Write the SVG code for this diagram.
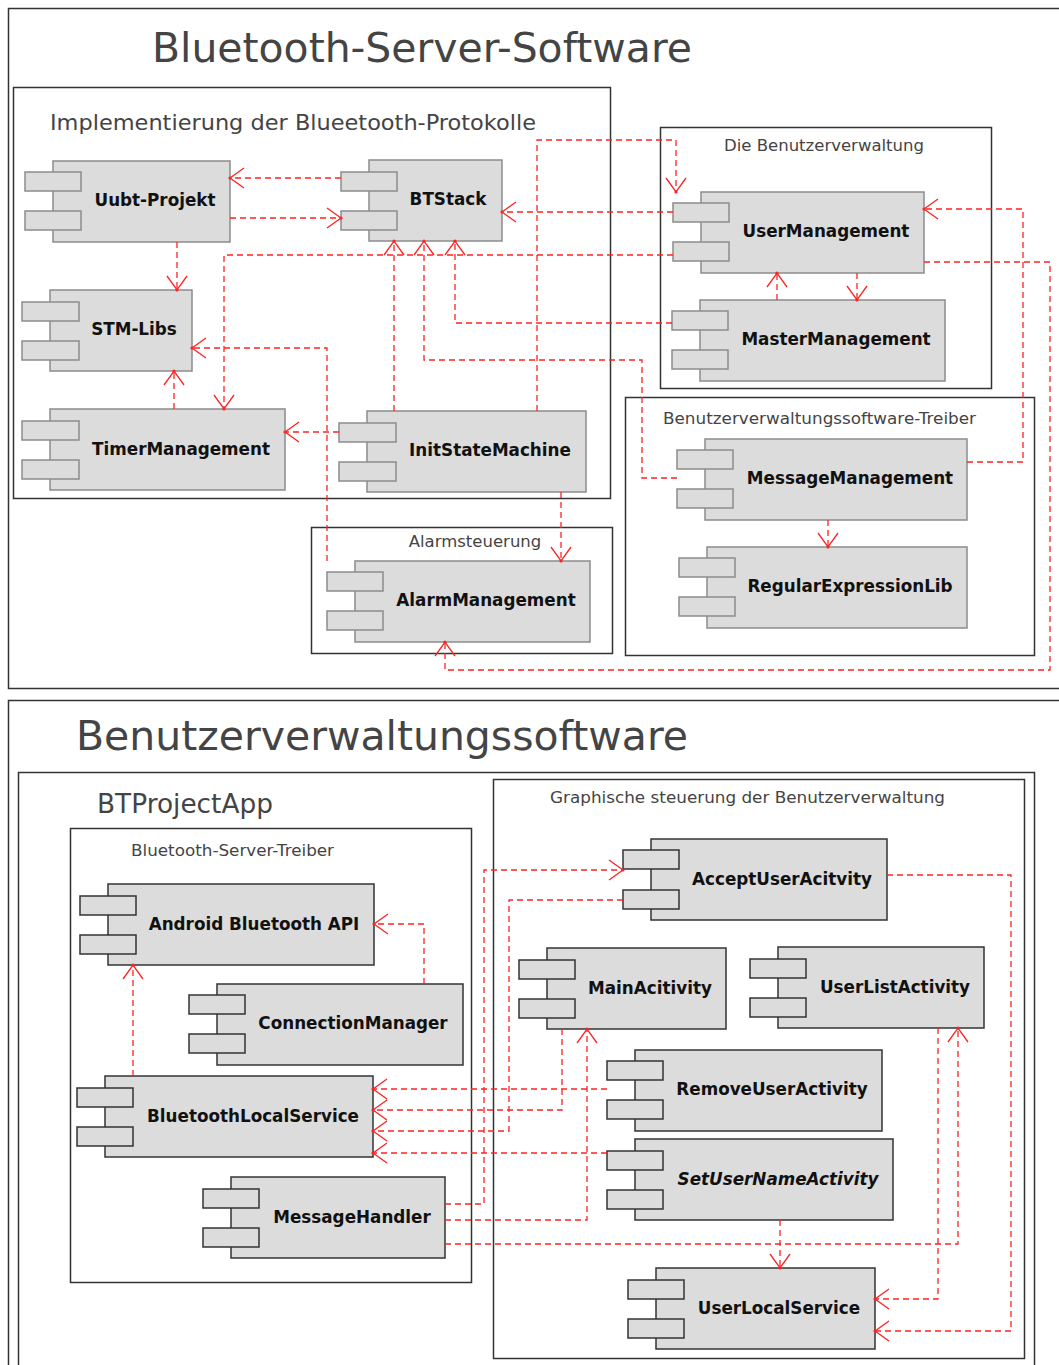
<svg xmlns="http://www.w3.org/2000/svg" width="1059" height="1365" viewBox="0 0 1059 1365">
<style>
.frame{fill:none;stroke:#333;stroke-width:1.5}
.t rect{fill:#dcdcdc;stroke:#8c8c8c;stroke-width:1.5}
.b rect{fill:#dcdcdc;stroke:#333;stroke-width:1.5}
.lbl{font-family:"DejaVu Sans",sans-serif;font-weight:bold;font-size:16.8px;fill:#111;text-anchor:middle}
.ft{font-family:"DejaVu Sans",sans-serif;fill:#444}
.conn path{fill:none;stroke:#f22;stroke-width:1.3;stroke-dasharray:6 4;marker-end:url(#arr)}
</style>
<defs>
<marker id="arr" markerUnits="userSpaceOnUse" viewBox="-16 -12 18 24" markerWidth="18" markerHeight="24" refX="0" refY="0" orient="auto">
<path d="M-14,-10 L0,0 L-14,10" fill="none" stroke="#f22" stroke-width="1.3"/>
<circle cx="0" cy="0" r="1.6" fill="#f22"/>
</marker>
</defs>
<rect width="1059" height="1365" fill="#fff"/>

<!-- top frames -->
<g id="frame-bss">
<rect class="frame" x="8.5" y="8.5" width="1060" height="680"/>
<text class="ft" x="152" y="62" font-size="40" textLength="540" lengthAdjust="spacingAndGlyphs" fill="#333">Bluetooth-Server-Software</text>
</g>
<g id="frame-impl">
<rect class="frame" x="13.5" y="87.5" width="597" height="411"/>
<text class="ft" x="50" y="130" font-size="22" textLength="486" lengthAdjust="spacingAndGlyphs">Implementierung der Blueetooth-Protokolle</text>
</g>
<g id="frame-bv">
<rect class="frame" x="660.5" y="127.5" width="331" height="261"/>
<text class="ft" x="824" y="151" font-size="16.5" text-anchor="middle">Die Benutzerverwaltung</text>
</g>
<g id="frame-treiber">
<rect class="frame" x="625.5" y="397.5" width="409" height="258"/>
<text class="ft" x="663" y="424" font-size="16.5" textLength="313" lengthAdjust="spacingAndGlyphs">Benutzerverwaltungssoftware-Treiber</text>
</g>
<g id="frame-alarm">
<rect class="frame" x="311.5" y="527.5" width="301" height="126"/>
<text class="ft" x="475" y="547" font-size="16.5" text-anchor="middle">Alarmsteuerung</text>
</g>

<!-- bottom frames -->
<g id="frame-bvs">
<rect class="frame" x="8.5" y="700.5" width="1060" height="700"/>
<text class="ft" x="76" y="750" font-size="40" textLength="612" lengthAdjust="spacingAndGlyphs" fill="#333">Benutzerverwaltungssoftware</text>
</g>
<g id="frame-app">
<rect class="frame" x="18.5" y="772.5" width="1016" height="640"/>
<text class="ft" x="97" y="813" font-size="26" textLength="176" lengthAdjust="spacingAndGlyphs" fill="#333">BTProjectApp</text>
</g>
<g id="frame-bst">
<rect class="frame" x="70.5" y="828.5" width="401" height="454"/>
<text class="ft" x="131" y="856" font-size="16.5" textLength="203" lengthAdjust="spacingAndGlyphs">Bluetooth-Server-Treiber</text>
</g>
<g id="frame-gui">
<rect class="frame" x="493.5" y="779.5" width="531" height="579"/>
<text class="ft" x="550" y="803" font-size="16.5" textLength="395" lengthAdjust="spacingAndGlyphs">Graphische steuerung der Benutzerverwaltung</text>
</g>

<!-- top nodes -->
<g id="uubt" class="t"><rect x="53" y="161" width="177" height="81"/><rect x="25" y="172" width="56" height="19"/><rect x="25" y="211" width="56" height="19"/><text class="lbl" x="155" y="206">Uubt-Projekt</text></g>
<g id="btstack" class="t"><rect x="369" y="160" width="133" height="81"/><rect x="341" y="172" width="56" height="19"/><rect x="341" y="211" width="56" height="19"/><text class="lbl" x="448" y="205">BTStack</text></g>
<g id="stmlibs" class="t"><rect x="50" y="290" width="142" height="81"/><rect x="22" y="302" width="57" height="19"/><rect x="22" y="341" width="57" height="19"/><text class="lbl" x="134" y="335">STM-Libs</text></g>
<g id="timer" class="t"><rect x="50" y="409" width="235" height="81"/><rect x="22" y="421" width="57" height="19"/><rect x="22" y="460" width="57" height="19"/><text class="lbl" x="181" y="455">TimerManagement</text></g>
<g id="initsm" class="t"><rect x="367" y="411" width="219" height="81"/><rect x="339" y="423" width="57" height="19"/><rect x="339" y="462" width="57" height="19"/><text class="lbl" x="490" y="456">InitStateMachine</text></g>
<g id="userman" class="t"><rect x="701" y="192" width="223" height="81"/><rect x="673" y="203" width="56" height="19"/><rect x="673" y="242" width="56" height="19"/><text class="lbl" x="826" y="237">UserManagement</text></g>
<g id="masterman" class="t"><rect x="700" y="300" width="245" height="81"/><rect x="672" y="311" width="56" height="19"/><rect x="672" y="350" width="56" height="19"/><text class="lbl" x="836" y="345">MasterManagement</text></g>
<g id="msgman" class="t"><rect x="705" y="439" width="262" height="81"/><rect x="677" y="450" width="56" height="19"/><rect x="677" y="489" width="56" height="19"/><text class="lbl" x="850" y="484">MessageManagement</text></g>
<g id="regex" class="t"><rect x="707" y="547" width="260" height="81"/><rect x="679" y="558" width="56" height="19"/><rect x="679" y="597" width="56" height="19"/><text class="lbl" x="850" y="592">RegularExpressionLib</text></g>
<g id="alarm" class="t"><rect x="355" y="561" width="235" height="81"/><rect x="327" y="572" width="56" height="19"/><rect x="327" y="611" width="56" height="19"/><text class="lbl" x="486" y="606">AlarmManagement</text></g>

<!-- bottom nodes -->
<g id="androidapi" class="b"><rect x="108" y="884" width="266" height="81"/><rect x="80" y="896" width="56" height="19"/><rect x="80" y="935" width="56" height="19"/><text class="lbl" x="254" y="930">Android Bluetooth API</text></g>
<g id="connman" class="b"><rect x="217" y="984" width="246" height="81"/><rect x="189" y="995" width="56" height="19"/><rect x="189" y="1034" width="56" height="19"/><text class="lbl" x="353" y="1029">ConnectionManager</text></g>
<g id="btlocal" class="b"><rect x="105" y="1076" width="268" height="81"/><rect x="77" y="1088" width="56" height="19"/><rect x="77" y="1127" width="56" height="19"/><text class="lbl" x="253" y="1122">BluetoothLocalService</text></g>
<g id="msghandler" class="b"><rect x="231" y="1177" width="214" height="81"/><rect x="203" y="1189" width="56" height="19"/><rect x="203" y="1228" width="56" height="19"/><text class="lbl" x="352" y="1223">MessageHandler</text></g>
<g id="acceptuser" class="b"><rect x="651" y="839" width="236" height="81"/><rect x="623" y="850" width="56" height="19"/><rect x="623" y="890" width="56" height="19"/><text class="lbl" x="782" y="885">AcceptUserAcitvity</text></g>
<g id="mainact" class="b"><rect x="547" y="948" width="179" height="81"/><rect x="519" y="960" width="56" height="19"/><rect x="519" y="999" width="56" height="19"/><text class="lbl" x="650" y="994">MainAcitivity</text></g>
<g id="userlist" class="b"><rect x="778" y="947" width="206" height="81"/><rect x="750" y="959" width="56" height="19"/><rect x="750" y="998" width="56" height="19"/><text class="lbl" x="895" y="993">UserListActivity</text></g>
<g id="removeuser" class="b"><rect x="635" y="1050" width="247" height="81"/><rect x="607" y="1061" width="56" height="19"/><rect x="607" y="1100" width="56" height="19"/><text class="lbl" x="772" y="1095">RemoveUserActivity</text></g>
<g id="setusername" class="b"><rect x="635" y="1139" width="258" height="81"/><rect x="607" y="1151" width="56" height="19"/><rect x="607" y="1190" width="56" height="19"/><text class="lbl" x="778" y="1185" font-style="italic">SetUserNameActivity</text></g>
<g id="userlocal" class="b"><rect x="656" y="1268" width="219" height="81"/><rect x="628" y="1280" width="56" height="19"/><rect x="628" y="1319" width="56" height="19"/><text class="lbl" x="779" y="1314">UserLocalService</text></g>

<g id="connectors" class="conn">
<path d="M341,178 H230"/>
<path d="M230,218 H341"/>
<path d="M177,242 V290"/>
<path d="M174,409 V371"/>
<path d="M339,432 H285"/>
<path d="M327,561 V348 H192"/>
<path d="M673,255 H224 V409"/>
<path d="M673,212 H502"/>
<path d="M537,411 V140 H676 V192"/>
<path d="M561,492 V561"/>
<path d="M777,300 V273"/>
<path d="M857,273 V300"/>
<path d="M967,462 H1023 V209 H924"/>
<path d="M924,262 H1050 V670 H445 V642"/>
<path d="M828,520 V547"/>
<path d="M394,411 V241"/>
<path d="M677,478 H642 V360 H424 V241"/>
<path d="M672,323 H455 V241"/>

<path d="M133,1076 V965"/>
<path d="M424,984 V924 H374"/>
<path d="M445,1204 H484 V870 H623"/>
<path d="M623,900 H509 V1131 H373"/>
<path d="M607,1089 H373"/>
<path d="M562,1029 V1110 H373"/>
<path d="M607,1153 H373"/>
<path d="M445,1220 H587 V1029"/>
<path d="M445,1244 H958 V1028"/>
<path d="M938,1028 V1299 H875"/>
<path d="M887,875 H1011 V1331 H875"/>
<path d="M780,1220 V1268"/>
</g>
</svg>
